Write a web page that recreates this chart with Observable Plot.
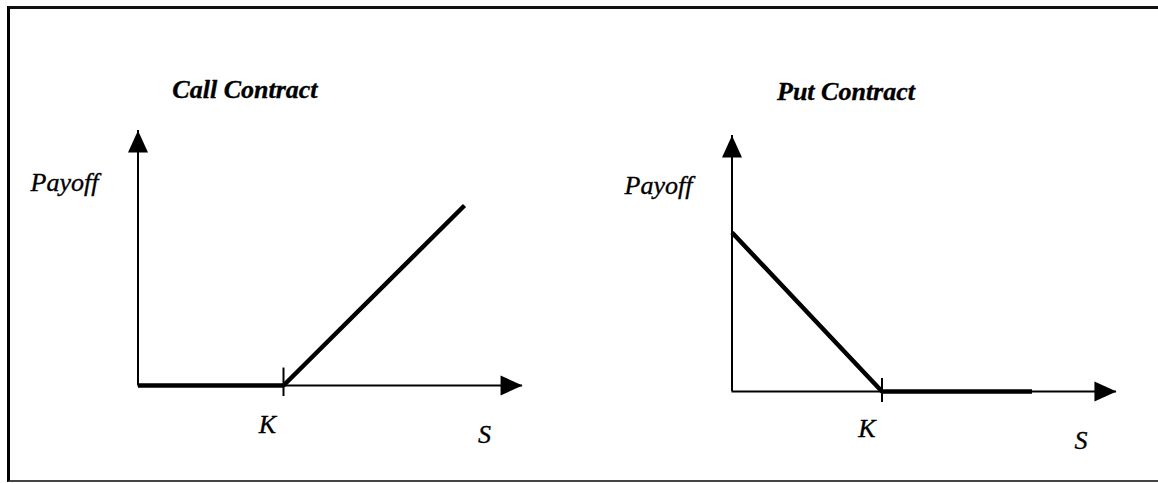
<!DOCTYPE html>
<html>
<head>
<meta charset="utf-8">
<script src="https://cdn.jsdelivr.net/npm/d3@7"></script>
<script src="https://cdn.jsdelivr.net/npm/@observablehq/plot@0.6"></script>
<style>
html, body { margin: 0; padding: 0; background: #fff; overflow: hidden; }
#wrap { position: relative; width: 1158px; height: 483px; overflow: hidden; }
#box { position: absolute; left: 7px; top: 6px; width: 1200px; height: 471px;
       border-left: 3px solid #000; border-top: 3px solid #111; border-bottom: 2px solid #444;
       border-right: none; box-sizing: content-box; }
.panel { position: absolute; left: 0; top: 0; }
</style>
</head>
<body>
<div id="wrap"><div id="box"></div></div>
<script>
// ---- data (units: strike K = 1) ----
const titles = ["Call Contract", "Put Contract"];
const payoffLabel = "Payoff";
const strikeLabel = "K";
const priceLabel = "S";
const strike = 1;
const callS = [0, 1, 2.244];
const callPayoff = [0, 0, 1.237];
const putS = [0, 1, 2.0];
const putPayoff = [1.06, 0, 0];
const callAxisEnds = [2.643, 1.753]; // [S axis end, payoff axis end]
const putAxisEnds = [2.563, 1.707];

// ---- layout (positions of each panel and its labels) ----
const layouts = [
  {originX: 137.5, kX: 283, originY: 385, title: [0.735, 2.03], payoff: [-0.505, 1.397],
   s: [2.381, -0.335], kY: -0.266, kDx: -16, tick: [-0.076, 0.12]},
  {originX: 731.5, kX: 881.5, originY: 391, title: [0.76, 2.0], payoff: [-0.49, 1.375],
   s: [2.327, -0.325], kY: -0.251, kDx: -15, tick: [-0.073, 0.087]}
];

const arrowHead = {
  draw(ctx, size) {
    const r = Math.sqrt(size / Math.PI);
    const w = r * 10 / 11;
    ctx.moveTo(0, 0);
    ctx.lineTo(w, 2 * r);
    ctx.lineTo(-w, 2 * r);
    ctx.closePath();
  }
};

const series = [
  {S: callS, P: callPayoff, ends: callAxisEnds},
  {S: putS, P: putPayoff, ends: putAxisEnds}
];

const font = "'Liberation Serif', 'Times New Roman', serif";
const textStyle = {fontFamily: font, fontSize: 26, fontStyle: "italic", fill: "#000", stroke: "#000", strokeWidth: 0.35};

series.forEach((sr, i) => {
  const L = layouts[i];
  const unit = L.kX - L.originX;
  const rows = sr.S.map((s, j) => ({s, p: sr.P[j]}));
  const chart = Plot.plot({
    width: 1158,
    height: 483,
    margin: 0,
    style: {background: "transparent", overflow: "visible", fontFamily: font},
    x: {domain: [0, strike], range: [L.originX, L.kX], axis: null},
    y: {domain: [0, strike], range: [L.originY, L.originY - unit], axis: null},
    marks: [
      // axes
      Plot.ruleY([0], {x1: 0, x2: sr.ends[0], stroke: "#000", strokeWidth: 2}),
      Plot.ruleX([0], {y1: 0, y2: sr.ends[1], stroke: "#000", strokeWidth: 2}),
      // arrowheads
      Plot.dot([{x: sr.ends[0], y: 0}], {x: "x", y: "y", r: 11, rotate: 90, symbol: arrowHead, fill: "#000", stroke: "none"}),
      Plot.dot([{x: 0, y: sr.ends[1]}], {x: "x", y: "y", r: 11, rotate: 0, symbol: arrowHead, fill: "#000", stroke: "none"}),
      // strike tick
      Plot.ruleX([strike], {y1: L.tick[0], y2: L.tick[1], stroke: "#000", strokeWidth: 2}),
      // payoff
      Plot.line(rows, {x: "s", y: "p", stroke: "#000", strokeWidth: 4.5, strokeLinejoin: "miter", strokeLinecap: "butt"}),
      // labels
      Plot.text([titles[i]], {x: L.title[0], y: L.title[1], text: d => d, ...textStyle, fontWeight: "bold"}),
      Plot.text([payoffLabel], {x: L.payoff[0], y: L.payoff[1], text: d => d, ...textStyle}),
      Plot.text([strikeLabel], {x: strike, y: L.kY, dx: L.kDx, text: d => d, ...textStyle}),
      Plot.text([priceLabel], {x: L.s[0], y: L.s[1], text: d => d, ...textStyle})
    ]
  });
  chart.classList.add("panel");
  document.getElementById("wrap").appendChild(chart);
});
</script>
</body>
</html>
